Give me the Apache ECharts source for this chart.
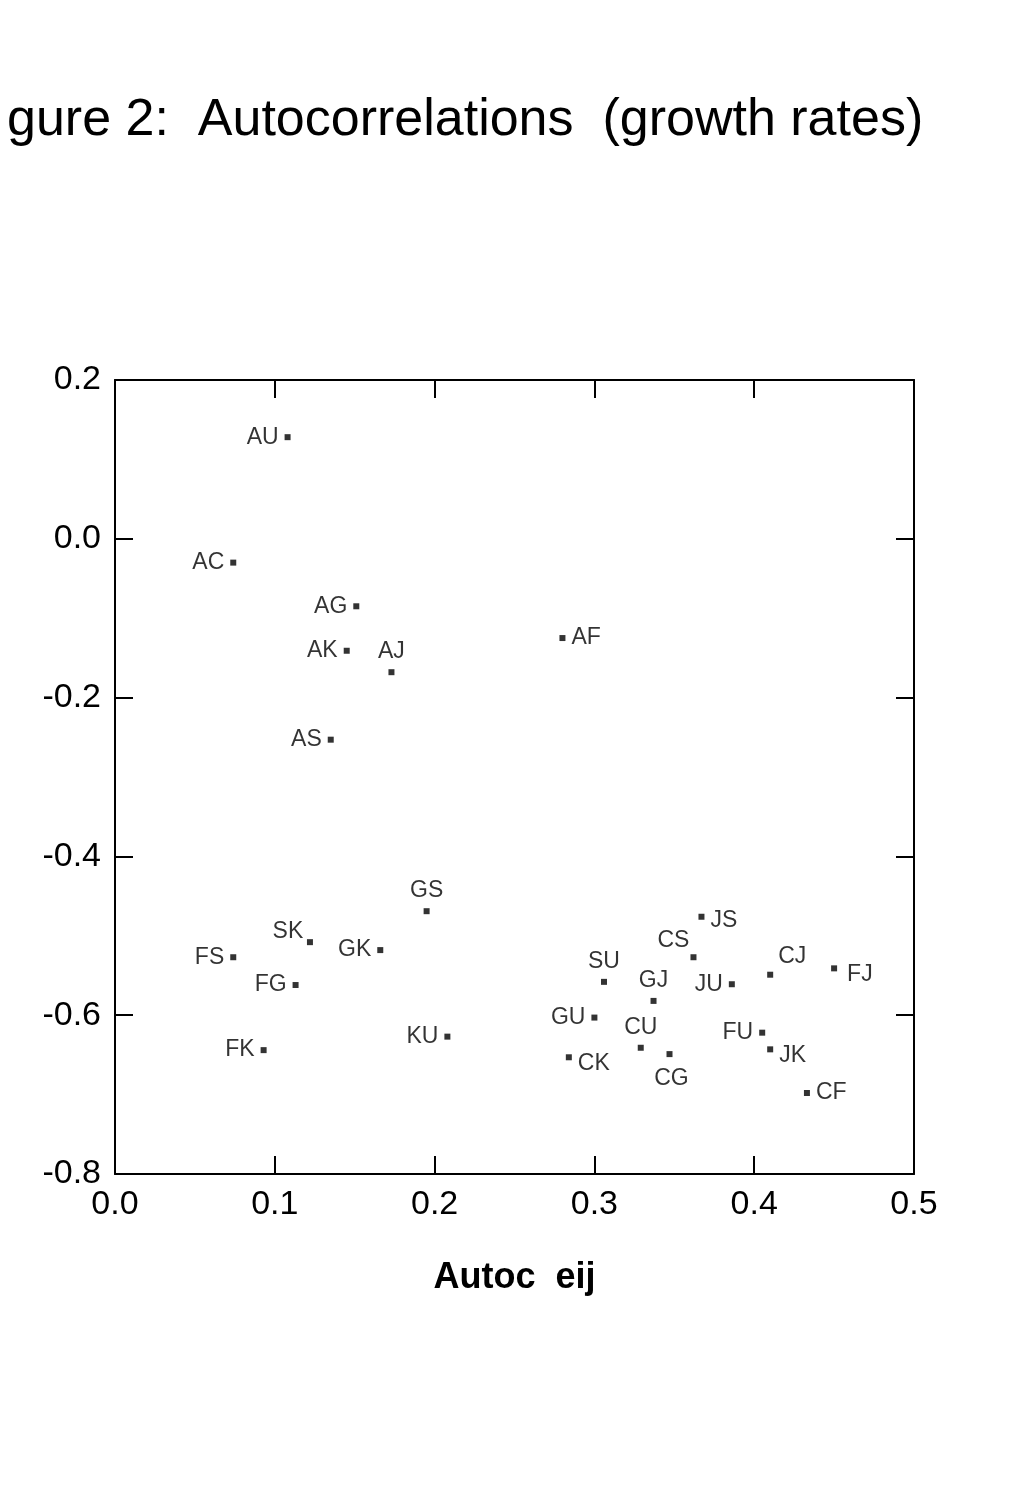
<!DOCTYPE html>
<html><head><meta charset="utf-8">
<script src="https://cdn.jsdelivr.net/npm/echarts@6/dist/echarts.min.js"></script>
<style>html,body{margin:0;background:#fff}#c{width:1020px;height:1494px}</style>
</head><body><div id="c"></div>
<script>
const names = ['AU','AC','AG','AK','AJ','AF','AS','GS','FS','SK','GK','FG','FK','KU','SU','GJ','GU','CK','CU','CG','CS','JS','JU','CJ','FJ','FU','JK','CF'];
const xVals = [0.108,0.074,0.151,0.145,0.173,0.280,0.135,0.195,0.074,0.122,0.166,0.113,0.093,0.208,0.306,0.337,0.300,0.284,0.329,0.347,0.362,0.367,0.386,0.410,0.450,0.405,0.410,0.433];
const yVals = [0.128,-0.030,-0.085,-0.141,-0.168,-0.125,-0.253,-0.469,-0.527,-0.508,-0.518,-0.562,-0.644,-0.627,-0.558,-0.582,-0.603,-0.653,-0.641,-0.649,-0.527,-0.476,-0.561,-0.549,-0.541,-0.622,-0.643,-0.698];
const labelPos = {AF:'right',CK:'right',CF:'right',JK:'right',FJ:'right',JS:'right',AJ:'top',GS:'top',SU:'top',CS:'top',GJ:'top',CU:'top',CJ:'top',CG:'bottom',SK:'top'};
const xTicks = ['0.0','0.1','0.2','0.3','0.4','0.5'];
const yTicks = ['-0.8','-0.6','-0.4','-0.2','0.0','0.2'];
const data = names.map((n,i)=>{
  const p = labelPos[n]||'left';
  const lab = {position:p, distance:6};
  if(n==='SK'){lab.offset=[-22,10];}
  if(n==='CJ'){lab.offset=[22,2];}
  if(n==='CS'){lab.offset=[-20,4];}
  if(n==='CG'){lab.offset=[2,4];}
  if(n==='FJ'){lab.offset=[4,6];}
  if(n==='CK'){lab.offset=[0,6];}
  if(n==='JK'){lab.offset=[0,6];}
  if(n==='JS'){lab.offset=[0,4];}
  return {value:[xVals[i],yVals[i]], label:lab, name:n};
});
const ax = (extra)=>Object.assign({axisLine:{onZero:false,lineStyle:{color:'#000',width:2}},axisTick:{inside:true,length:18,lineStyle:{color:'#000',width:2}},splitLine:{show:false}},extra);
const chart = echarts.init(document.getElementById('c'));
chart.setOption({
  animation:false,
  title:{text:'gure 2:  Autocorrelations  (growth rates)',left:2,top:90,textStyle:{fontFamily:'Liberation Sans',fontWeight:'normal',fontSize:52,color:'#000'}},
  grid:{left:115,right:106,top:380,bottom:320,containLabel:false,outerBoundsMode:'none'},
  xAxis:[
    ax({type:'value',min:0,max:0.5,interval:0.1,position:'bottom',
      axisLabel:{fontSize:34,color:'#000',fontFamily:'Liberation Sans',margin:14,formatter:v=>xTicks[Math.round(v*10)]},
      name:'Autoc  eij',nameLocation:'middle',nameGap:86,nameTextStyle:{fontSize:36,fontWeight:'bold',color:'#000',fontFamily:'Liberation Sans'}}),
    ax({type:'value',min:0,max:0.5,interval:0.1,position:'top',axisLabel:{show:false}})
  ],
  yAxis:[
    ax({type:'value',min:-0.8,max:0.2,interval:0.2,position:'left',
      axisLabel:{fontSize:34,color:'#000',fontFamily:'Liberation Sans',margin:14,formatter:v=>yTicks[Math.round((v+0.8)*5)]},
      name:'Autoc  ei/ej',nameLocation:'middle',nameGap:122,nameTextStyle:{fontSize:36,fontWeight:'bold',color:'#000',fontFamily:'Liberation Sans'}}),
    ax({type:'value',min:-0.8,max:0.2,interval:0.2,position:'right',axisLabel:{show:false}})
  ],
  series:[{type:'scatter',symbol:'rect',symbolSize:6,itemStyle:{color:'#000'},data:data,
    label:{show:true,formatter:p=>p.name,fontSize:23,color:'#000',fontFamily:'Liberation Sans'}}]
});
</script></body></html>
